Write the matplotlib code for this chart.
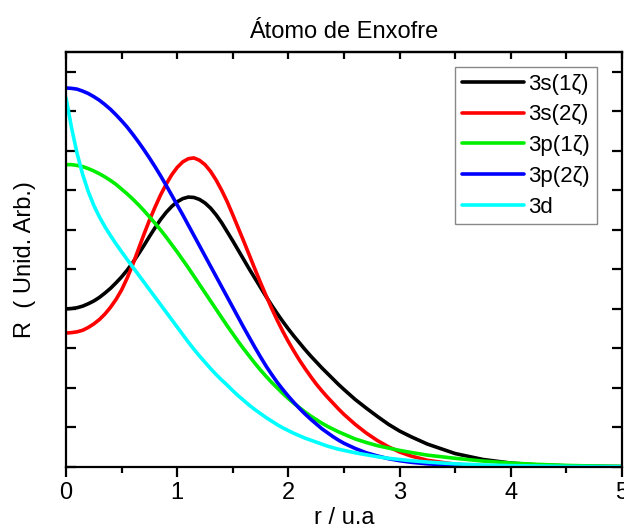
import matplotlib
matplotlib.use("Agg")
import matplotlib.pyplot as plt
from matplotlib.ticker import MultipleLocator, NullFormatter

plt.rcParams['font.family'] = ['Liberation Sans', 'DejaVu Sans']

# radial grid (u.a)
r_au = [0.0, 0.05, 0.1, 0.15, 0.2, 0.25, 0.3, 0.35, 0.4, 0.45,
        0.5, 0.55, 0.6, 0.65, 0.7, 0.75, 0.8, 0.85, 0.9, 0.95,
        1.0, 1.05, 1.1, 1.15, 1.2, 1.25, 1.3, 1.35, 1.4, 1.45,
        1.5, 1.55, 1.6, 1.65, 1.7, 1.75, 1.8, 1.85, 1.9, 1.95,
        2.0, 2.05, 2.1, 2.15, 2.2, 2.25, 2.3, 2.35, 2.4, 2.45,
        2.5, 2.6, 2.7, 2.8, 2.9, 3.0, 3.1, 3.25, 3.5, 3.75,
        4.0, 4.25, 4.5, 4.75, 5.0]

# funcoes radiais (unidades arbitrarias)
r_3s_1z = [4.0, 4.01, 4.03, 4.07, 4.13, 4.2, 4.29, 4.4, 4.52, 4.66,
           4.81, 4.98, 5.17, 5.38, 5.6, 5.83, 6.05, 6.26, 6.44, 6.59,
           6.71, 6.79, 6.83, 6.82, 6.77, 6.68, 6.55, 6.38, 6.18, 5.95,
           5.72, 5.48, 5.24, 5.0, 4.77, 4.54, 4.31, 4.09, 3.88, 3.68,
           3.49, 3.31, 3.14, 2.97, 2.81, 2.66, 2.51, 2.37, 2.23, 2.09,
           1.96, 1.71, 1.49, 1.28, 1.08, 0.91, 0.77, 0.58, 0.34, 0.19,
           0.1, 0.05, 0.03, 0.015, 0.01]
r_3s_2z = [3.39, 3.4, 3.42, 3.46, 3.53, 3.62, 3.73, 3.87, 4.04, 4.24,
           4.48, 4.78, 5.12, 5.5, 5.88, 6.24, 6.57, 6.88, 7.15, 7.39,
           7.58, 7.72, 7.8, 7.82, 7.76, 7.65, 7.48, 7.26, 7.0, 6.71,
           6.38, 6.04, 5.7, 5.35, 5.0, 4.66, 4.33, 4.01, 3.71, 3.43,
           3.17, 2.93, 2.7, 2.49, 2.29, 2.1, 1.93, 1.77, 1.62, 1.47,
           1.33, 1.08, 0.86, 0.67, 0.51, 0.38, 0.28, 0.17, 0.07, 0.03,
           0.01, 0.005, 0.002, 0.001, 0.0]
r_3p_1z = [7.65, 7.65, 7.63, 7.6, 7.55, 7.49, 7.42, 7.34, 7.25, 7.15,
           7.03, 6.91, 6.78, 6.64, 6.49, 6.33, 6.17, 6.0, 5.82, 5.63,
           5.44, 5.24, 5.04, 4.83, 4.62, 4.41, 4.2, 3.99, 3.78, 3.57,
           3.37, 3.17, 2.98, 2.8, 2.62, 2.45, 2.29, 2.14, 2.0, 1.86,
           1.73, 1.61, 1.5, 1.39, 1.29, 1.2, 1.11, 1.03, 0.96, 0.89,
           0.83, 0.71, 0.62, 0.54, 0.48, 0.42, 0.37, 0.3, 0.22, 0.15,
           0.1, 0.065, 0.04, 0.025, 0.015]
r_3p_2z = [9.59, 9.58, 9.56, 9.51, 9.45, 9.37, 9.28, 9.17, 9.05, 8.91,
           8.76, 8.6, 8.42, 8.23, 8.03, 7.82, 7.6, 7.37, 7.13, 6.88,
           6.63, 6.38, 6.12, 5.86, 5.6, 5.34, 5.08, 4.82, 4.56, 4.3,
           4.04, 3.78, 3.52, 3.27, 3.02, 2.78, 2.55, 2.34, 2.14, 1.96,
           1.79, 1.63, 1.48, 1.34, 1.21, 1.09, 0.97, 0.87, 0.77, 0.68,
           0.6, 0.47, 0.36, 0.28, 0.21, 0.16, 0.12, 0.08, 0.04, 0.02,
           0.01, 0.005, 0.003, 0.002, 0.001]
r_3d = [9.34, 8.58, 7.93, 7.4, 6.97, 6.62, 6.33, 6.08, 5.855, 5.645,
        5.445, 5.25, 5.06, 4.87, 4.68, 4.49, 4.3, 4.11, 3.92, 3.73,
        3.54, 3.35, 3.16, 2.98, 2.81, 2.65, 2.49, 2.34, 2.2, 2.07,
        1.93, 1.8, 1.68, 1.56, 1.45, 1.35, 1.25, 1.16, 1.07, 0.99,
        0.92, 0.85, 0.79, 0.73, 0.68, 0.63, 0.58, 0.53, 0.49, 0.45,
        0.42, 0.36, 0.31, 0.26, 0.22, 0.19, 0.16, 0.125, 0.08, 0.05,
        0.035, 0.025, 0.015, 0.01, 0.007]

labels = ['3s(1ζ)', '3s(2ζ)', '3p(1ζ)', '3p(2ζ)', '3d']
colors = ['#000000', '#ff0000', '#00ee00', '#0000ff', '#00ffff']
series = [r_3s_1z, r_3s_2z, r_3p_1z, r_3p_2z, r_3d]

fig = plt.figure(figsize=(6.24, 5.30), dpi=100)
ax = fig.add_axes([66 / 624, 1 - 467 / 530, 556 / 624, 415 / 530])

for vals, lab, col in zip(series, labels, colors):
    ax.plot(r_au, vals, color=col, lw=2.6, label=lab,
            solid_joinstyle='round', solid_capstyle='round')

ax.set_xlim(0, 5)
ax.set_ylim(0, 10.5)

for sp in ax.spines.values():
    sp.set_linewidth(1.6)

# eixo x inferior: marcas para fora
ax.xaxis.set_major_locator(MultipleLocator(1))
ax.xaxis.set_minor_locator(MultipleLocator(0.5))
ax.tick_params(axis='x', which='major', direction='out', length=7, width=1.6,
               labelsize=17, pad=4, top=False)
ax.tick_params(axis='x', which='minor', direction='out', length=4, width=1.6,
               top=False)

# eixo y sem rotulos, marcas para dentro nos dois lados
ax.yaxis.set_major_locator(MultipleLocator(1))
ax.yaxis.set_major_formatter(NullFormatter())
ax.tick_params(axis='y', which='major', direction='in', length=7, width=1.6,
               left=True, right=True)

# eixo x superior: marcas para dentro a cada 0.5
top = ax.secondary_xaxis('top')
top.xaxis.set_major_locator(MultipleLocator(0.5))
top.xaxis.set_major_formatter(NullFormatter())
top.tick_params(direction='in', length=5, width=1.6)
top.spines['top'].set_linewidth(1.6)

ax.set_title('Átomo de Enxofre', fontsize=17, pad=10)
ax.set_xlabel('r / u.a', fontsize=17, labelpad=2)
ax.set_ylabel('R  ( Unid. Arb.)', fontsize=17, labelpad=18)

leg = ax.legend(loc='upper right', bbox_to_anchor=(0.955, 0.964),
                borderaxespad=0, fontsize=16, handlelength=2.8,
                handletextpad=0.2, labelspacing=0.44, borderpad=0.3,
                fancybox=False, edgecolor='#888888', framealpha=1)
leg.get_frame().set_linewidth(1.0)

fig.savefig('out.png', dpi=100)
